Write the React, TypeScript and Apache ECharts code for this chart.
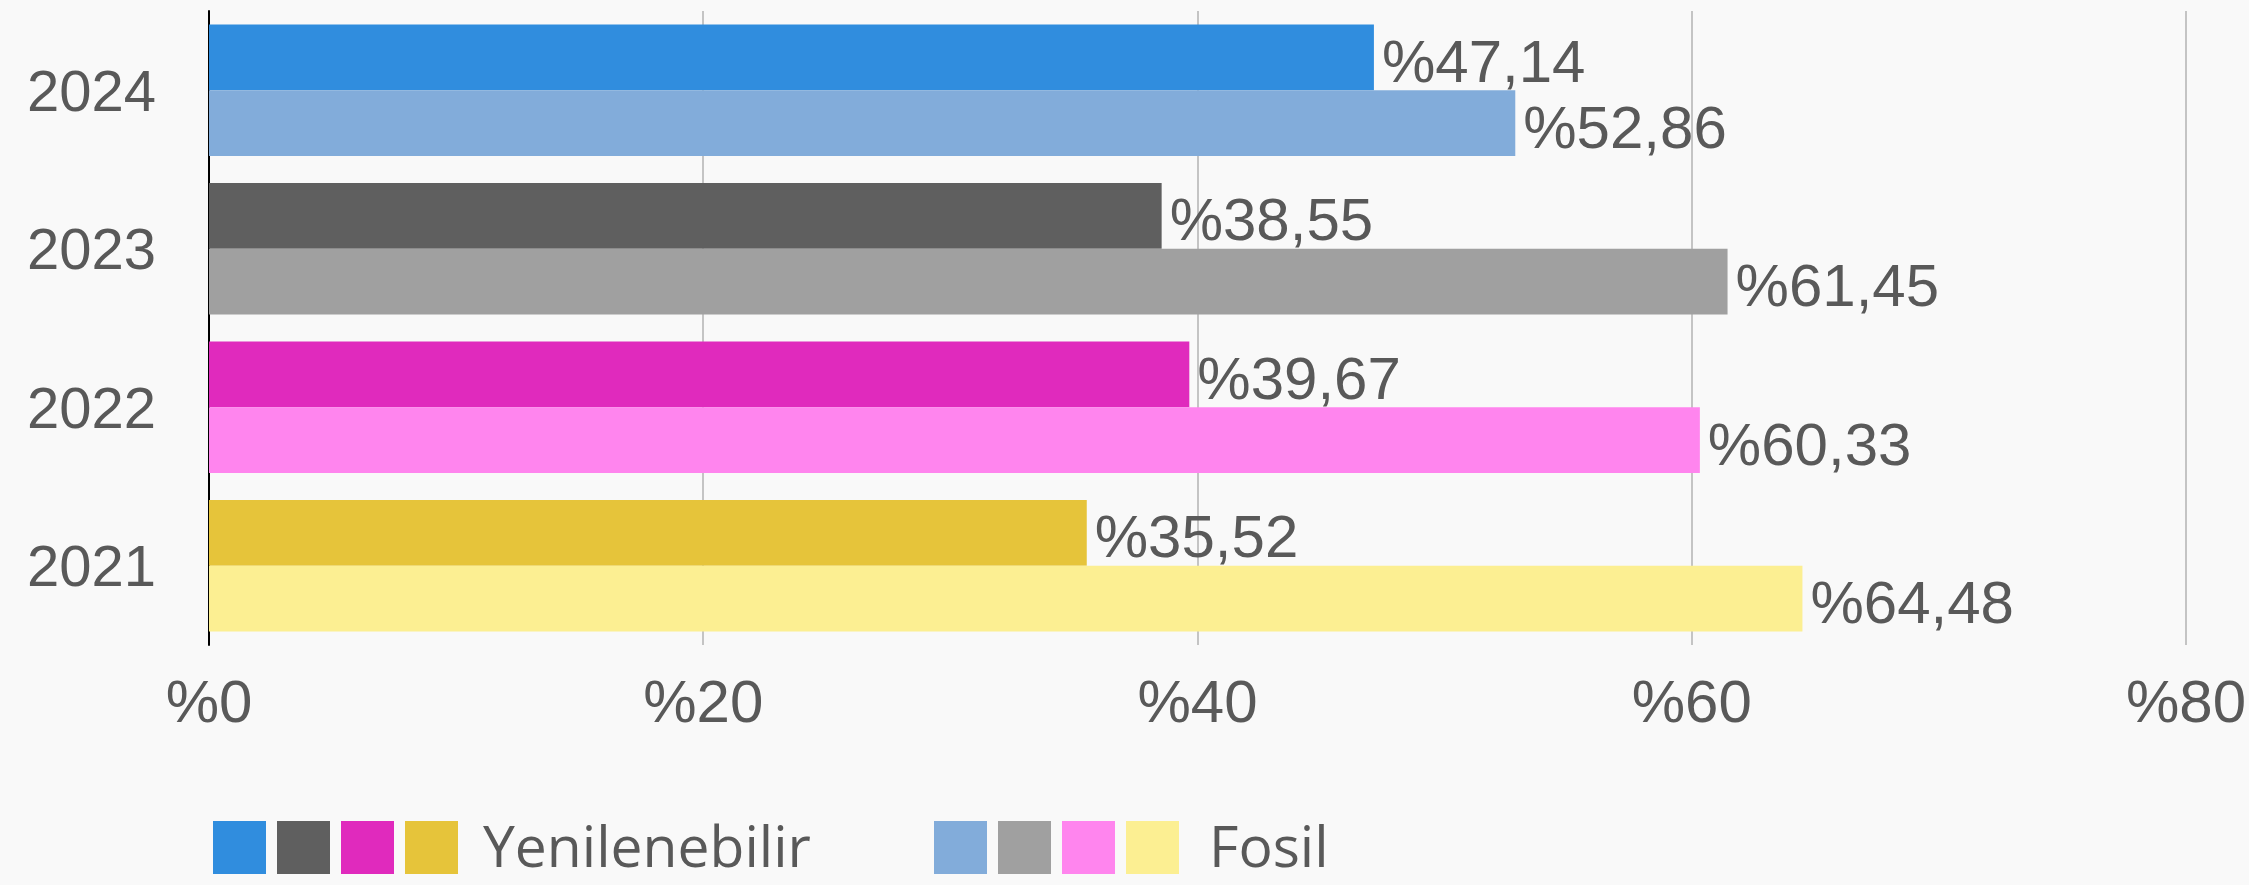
import React, { useEffect, useRef } from "react";
import * as echarts from "echarts";

const years = ["2021", "2022", "2023", "2024"];
const renewable = [35.52, 39.67, 38.55, 47.14];
const fossil = [64.48, 60.33, 61.45, 52.86];
const renewableColors = ["#E6C43A", "#E02ABD", "#5F5F5F", "#308DDE"];
const fossilColors = ["#FCEF92", "#FF85EE", "#A0A0A0", "#82ACDA"];
const seriesNames = ["Yenilenebilir", "Fosil"];
const xMin = 0;
const xMax = 80;
const xStep = 20;

const fmtPct = (v: number) => "%" + v.toFixed(2).replace(".", ",");

export default function App() {
  const ref = useRef<HTMLDivElement>(null);
  useEffect(() => {
    if (!ref.current) return;
    const chart = echarts.init(ref.current, undefined, { renderer: "svg" });
    const textColor = "#595959";
    const legendGroups = [
      { name: seriesNames[0], colors: renewableColors.slice().reverse(), x: 213, textX: 483 },
      { name: seriesNames[1], colors: fossilColors.slice().reverse(), x: 934, textX: 1209 },
    ];
    const graphic: any[] = [];
    legendGroups.forEach((g) => {
      g.colors.forEach((c, i) => {
        graphic.push({
          type: "rect",
          left: g.x + i * 64,
          top: 821,
          shape: { width: 53, height: 53 },
          style: { fill: c },
        });
      });
      graphic.push({
        type: "text",
        x: g.textX,
        y: 845,
        style: {
          text: g.name,
          fill: textColor,
          fontSize: 57,
          fontFamily: "Open Sans",
          lineHeight: 56,
          verticalAlign: "middle",
          align: "left",
        },
      });
    });

    const makeSeries = (name: string, vals: number[], colors: string[]) => ({
      name,
      type: "bar",
      data: vals.map((v, i) => ({ value: v, itemStyle: { color: colors[i] } })),
      barGap: "0%",
      barCategoryGap: "17%",
      label: {
        show: true,
        position: "right",
        distance: 8,
        offset: [0, 4],
        formatter: (p: any) => fmtPct(p.value),
        color: textColor,
        fontSize: 60,
        fontFamily: "Liberation Sans",
      },
    });

    chart.setOption({
      animation: false,
      backgroundColor: "#f9f9f9",
      graphic,
      grid: { left: 209, right: 59, top: 11, bottom: 240, containLabel: false },
      xAxis: {
        type: "value",
        min: xMin,
        max: xMax,
        interval: xStep,
        axisLine: { show: false },
        axisTick: { show: false },
        splitLine: { show: true, lineStyle: { color: "#c4c4c4", width: 2 } },
        axisLabel: {
          formatter: (v: number) => "%" + v,
          color: textColor,
          fontSize: 60,
          fontFamily: "Liberation Sans",
          margin: 26,
        },
      },
      yAxis: {
        type: "category",
        data: years,
        axisLine: { show: true, lineStyle: { color: "#000", width: 2 } },
        axisTick: { show: false },
        axisLabel: {
          color: textColor,
          fontSize: 58,
          fontFamily: "Liberation Sans",
          margin: 53,
        },
      },
      series: [
        makeSeries(seriesNames[0], renewable, renewableColors),
        makeSeries(seriesNames[1], fossil, fossilColors),
      ],
    });
    return () => chart.dispose();
  }, []);
  return (
    <div
      ref={ref}
      style={{ position: "fixed", left: 0, top: 0, width: 2249, height: 885 }}
    />
  );
}
